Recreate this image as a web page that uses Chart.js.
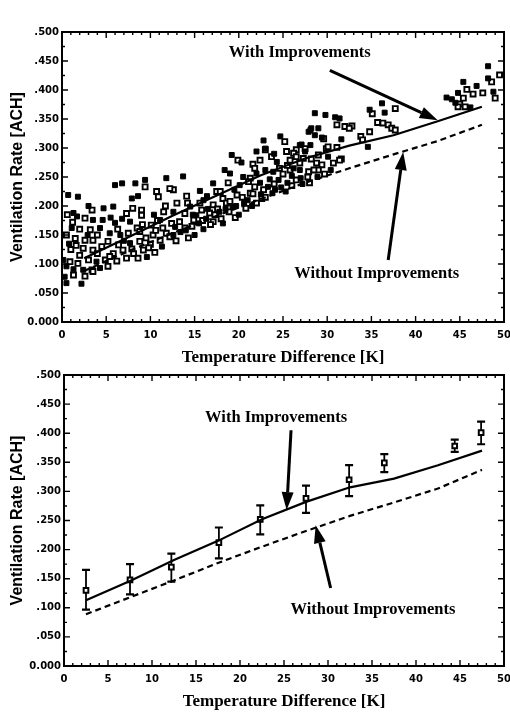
<!DOCTYPE html>
<html>
<head>
<meta charset="utf-8">
<script src="https://cdn.jsdelivr.net/npm/chart.js@4.4.1/dist/chart.umd.min.js"></script>
<style>
body { margin: 0; background: #fff; }
canvas { position: absolute; left: 0; }
#topChart { top: 0; }
#bottomChart { top: 368px; }
</style>
</head>
<body>
<canvas id="topChart" width="510" height="368"></canvas>
<canvas id="bottomChart" width="510" height="348"></canvas>
<script>
// model curves (same temperature steps for both panels)
const modelX = [2.5, 7.5, 12.5, 17.5, 22.5, 27.5, 32.5, 37.5, 42.5, 47.5];
const topWith = [0.110, 0.146, 0.183, 0.218, 0.253, 0.282, 0.304, 0.322, 0.346, 0.371];
const topWithout = [0.088, 0.122, 0.153, 0.183, 0.212, 0.240, 0.265, 0.289, 0.312, 0.340];
const withImp = [0.113, 0.146, 0.182, 0.215, 0.252, 0.282, 0.307, 0.322, 0.345, 0.370];
const withoutImp = [0.089, 0.118, 0.147, 0.177, 0.205, 0.232, 0.258, 0.281, 0.305, 0.337];

// binned measurements with error bars (bottom panel)
const barX = [2.5, 7.5, 12.2, 17.6, 22.3, 27.5, 32.4, 36.4, 44.4, 47.4];
const barMean = [0.130, 0.148, 0.170, 0.212, 0.252, 0.288, 0.320, 0.349, 0.378, 0.401];
const barLow = [0.097, 0.123, 0.145, 0.185, 0.226, 0.263, 0.292, 0.333, 0.368, 0.381];
const barHigh = [0.165, 0.175, 0.193, 0.238, 0.276, 0.310, 0.345, 0.364, 0.389, 0.420];

// hourly measurements (top panel), [deltaT, ACH]
const filledPts = [
  [48.2,0.441],[48.2,0.420],[45.4,0.414],[46.9,0.407],[48.8,0.397],[44.8,0.395],[43.5,0.387],[44.1,0.384],
  [44.5,0.378],[46.2,0.370],[36.2,0.377],[34.8,0.366],[36.5,0.361],[34.6,0.302],[28.6,0.360],[29.8,0.357],
  [30.9,0.353],[31.4,0.351],[28.1,0.331],[29.0,0.334],[28.6,0.322],[31.6,0.315],[28.1,0.305],[27.1,0.306],
  [27.5,0.294],[22.8,0.313],[24.7,0.320],[22.0,0.294],[23.0,0.299],[27.9,0.328],[28.2,0.334],[26.9,0.305],
  [29.4,0.318],[24.3,0.276],[30.1,0.285],[26.2,0.265],[26.9,0.262],[23.0,0.262],[23.9,0.259],[22.0,0.256],
  [22.4,0.240],[23.3,0.233],[24.1,0.228],[19.2,0.288],[20.3,0.275],[18.4,0.262],[19.0,0.256],[13.7,0.251],
  [17.1,0.239],[15.6,0.226],[20.1,0.236],[16.4,0.217],[14.5,0.199],[12.6,0.190],[15.2,0.184],[12.8,0.164],
  [12.6,0.150],[0.7,0.219],[1.8,0.216],[6.0,0.236],[6.8,0.239],[8.3,0.239],[9.4,0.245],[11.8,0.248],
  [7.9,0.213],[8.6,0.217],[1.3,0.188],[1.7,0.182],[4.7,0.196],[5.8,0.199],[3.5,0.176],[1.1,0.162],
  [4.3,0.162],[6.0,0.171],[7.7,0.173],[11.1,0.176],[5.4,0.153],[6.6,0.150],[7.7,0.136],[0.15,0.107],
  [3.9,0.104],[0.5,0.096],[1.3,0.091],[2.4,0.090],[4.3,0.093],[0.3,0.078],[0.5,0.067],[2.2,0.066],
  [14.0,0.158],[15.5,0.170],[16.3,0.178],[17.8,0.190],[19.3,0.198],[20.6,0.205],[15.0,0.150],[16.0,0.160],
  [18.5,0.195],[20.0,0.185],[21.0,0.210],[22.5,0.220],[24.5,0.245],[25.5,0.240],[26.0,0.252],[27.0,0.248],
  [23.5,0.246],[24.8,0.232],
  [0.8,0.135],[2.9,0.150],[4.6,0.176],[3.0,0.200],[7.0,0.140],[9.6,0.112],[11.3,0.130],[10.4,0.185],
  [6.8,0.178],[5.5,0.180],[13.4,0.155],[14.8,0.185],[16.5,0.195],[18.2,0.170],[19.7,0.200],[16.0,0.210],
  [19.5,0.228],[21.5,0.200],[23.8,0.222],[25.3,0.225],[27.2,0.238],[28.9,0.250],[30.4,0.262],[24.0,0.290],
  [20.5,0.250]
];
const openPts = [
  [49.5,0.426],[48.6,0.414],[45.8,0.401],[47.6,0.395],[46.5,0.393],[45.4,0.386],[49.0,0.386],[45.0,0.376],
  [45.6,0.371],[44.8,0.371],[37.7,0.368],[35.1,0.359],[35.7,0.344],[36.3,0.343],[36.9,0.340],[37.3,0.334],
  [37.7,0.331],[34.8,0.328],[33.8,0.320],[31.1,0.340],[32.0,0.337],[32.8,0.338],[32.5,0.334],[34.0,0.314],
  [29.6,0.316],[29.9,0.299],[31.1,0.301],[31.6,0.281],[26.5,0.297],[29.0,0.288],[25.2,0.311],[23.7,0.285],
  [22.4,0.279],[25.4,0.294],[26.2,0.291],[27.5,0.299],[30.1,0.302],[21.6,0.272],[25.8,0.279],[26.5,0.285],
  [27.3,0.282],[28.2,0.281],[28.8,0.274],[29.4,0.271],[30.7,0.274],[31.4,0.279],[27.9,0.259],[29.0,0.262],
  [26.9,0.274],[21.3,0.248],[21.8,0.233],[22.6,0.213],[21.3,0.222],[23.0,0.297],[19.9,0.279],[18.8,0.240],
  [12.6,0.228],[17.5,0.225],[21.1,0.242],[14.1,0.217],[18.2,0.213],[19.8,0.219],[21.6,0.221],[13.0,0.205],
  [15.6,0.205],[17.1,0.202],[18.6,0.205],[13.9,0.187],[16.7,0.188],[13.3,0.173],[14.9,0.176],[17.1,0.173],
  [13.9,0.162],[9.4,0.233],[10.7,0.225],[10.9,0.216],[12.2,0.230],[3.4,0.193],[7.3,0.187],[9.0,0.193],
  [9.0,0.184],[11.5,0.190],[2.6,0.179],[2.0,0.160],[3.2,0.159],[8.5,0.162],[10.1,0.167],[12.4,0.170],
  [1.5,0.144],[2.6,0.141],[3.5,0.141],[7.5,0.153],[8.8,0.156],[10.3,0.150],[11.8,0.153],[5.2,0.139],
  [2.4,0.127],[3.5,0.124],[6.4,0.133],[8.8,0.139],[10.0,0.134],[11.1,0.141],[12.2,0.147],[5.8,0.118],
  [6.9,0.124],[8.1,0.118],[9.2,0.124],[7.3,0.110],[8.6,0.110],[0.9,0.104],[1.8,0.101],[3.0,0.107],
  [4.9,0.107],[5.4,0.113],[3.4,0.090],[5.2,0.096],[1.3,0.081],[2.6,0.079],[3.5,0.087],
  [14.7,0.165],[16.8,0.168],[18.0,0.178],[19.6,0.180],[20.8,0.196],[15.8,0.193],[17.6,0.195],[19.0,0.208],
  [22.0,0.205],[23.0,0.215],[25.0,0.255],[24.0,0.238],[26.5,0.245],[27.8,0.250],[28.5,0.262],[25.8,0.262],
  [9.5,0.145],[10.6,0.158],[11.4,0.162],[6.3,0.160],[4.0,0.150],[4.5,0.130],[9.8,0.128],[10.8,0.175],
  [1.0,0.125],[0.5,0.150],[1.6,0.132],
  [2.0,0.115],[4.0,0.118],[1.2,0.172],[0.6,0.185],[6.2,0.105],[7.9,0.126],[10.5,0.120],[9.1,0.168],
  [11.7,0.200],[8.0,0.196],[12.9,0.140],[14.3,0.145],[15.9,0.175],[17.3,0.185],[18.9,0.190],[20.4,0.215],
  [14.2,0.205],[17.9,0.225],[22.8,0.228],[24.6,0.265],[26.0,0.235],[28.0,0.240],[29.7,0.255],[25.5,0.270],
  [21.8,0.265]
];

const xTicks = [0, 5, 10, 15, 20, 25, 30, 35, 40, 45, 50];
const yTicks = [0, 0.05, 0.1, 0.15, 0.2, 0.25, 0.3, 0.35, 0.4, 0.45, 0.5];

const tickFont = { family: '"DejaVu Sans", sans-serif', size: 10, weight: 'bold' };
const serif = '"Liberation Serif", "Times New Roman", serif';

function toXY(xs, ys) {
    return xs.map((v, i) => ({ x: v, y: ys[i] }));
}

// box round the plot with inward ticks on all four sides
const framePlugin = {
    id: 'frame',
    afterDraw(chart) {
        const { ctx, chartArea: a, scales: { x, y } } = chart;
        ctx.save();
        ctx.strokeStyle = '#000';
        ctx.lineWidth = 2;
        ctx.strokeRect(a.left, a.top, a.right - a.left, a.bottom - a.top);
        ctx.lineWidth = 1.4;
        ctx.beginPath();
        for (let k = 0; k <= 50; k++) {
            const px = x.getPixelForValue(k);
            const len = k % 5 === 0 ? 6 : 3;
            ctx.moveTo(px, a.bottom); ctx.lineTo(px, a.bottom - len);
            ctx.moveTo(px, a.top); ctx.lineTo(px, a.top + len);
        }
        for (let k = 0; k <= 20; k++) {
            const py = y.getPixelForValue(k * 0.025);
            const len = k % 2 === 0 ? 6 : 3;
            ctx.moveTo(a.left, py); ctx.lineTo(a.left + len, py);
            ctx.moveTo(a.right, py); ctx.lineTo(a.right - len, py);
        }
        ctx.stroke();
        ctx.restore();
    }
};

// labels with arrows, placed in data units
const notesPlugin = {
    id: 'notes',
    afterDatasetsDraw(chart, args, opts) {
        const { ctx, scales: { x, y } } = chart;
        ctx.save();
        ctx.fillStyle = '#000';
        ctx.strokeStyle = '#000';
        ctx.font = 'bold 16.5px ' + serif;
        ctx.textAlign = 'center';
        ctx.textBaseline = 'middle';
        (opts.texts || []).forEach(t => {
            ctx.fillText(t.text, x.getPixelForValue(t.x), y.getPixelForValue(t.y));
        });
        (opts.arrows || []).forEach(ar => {
            const x0 = x.getPixelForValue(ar.from[0]), y0 = y.getPixelForValue(ar.from[1]);
            const x1 = x.getPixelForValue(ar.to[0]), y1 = y.getPixelForValue(ar.to[1]);
            const ang = Math.atan2(y1 - y0, x1 - x0);
            const head = 18, half = 6;
            const bx = x1 - head * Math.cos(ang), by = y1 - head * Math.sin(ang);
            ctx.lineWidth = 3;
            ctx.beginPath();
            ctx.moveTo(x0, y0);
            ctx.lineTo(bx, by);
            ctx.stroke();
            ctx.beginPath();
            ctx.moveTo(x1, y1);
            ctx.lineTo(bx + half * Math.sin(ang), by - half * Math.cos(ang));
            ctx.lineTo(bx - half * Math.sin(ang), by + half * Math.cos(ang));
            ctx.closePath();
            ctx.fill();
        });
        ctx.restore();
    }
};

// vertical error bars with caps
const errorBarPlugin = {
    id: 'errorBars',
    beforeDatasetsDraw(chart, args, opts) {
        if (!opts.xs) return;
        const { ctx, scales: { x, y } } = chart;
        ctx.save();
        ctx.strokeStyle = '#000';
        opts.xs.forEach((v, i) => {
            const px = x.getPixelForValue(v);
            const lo = y.getPixelForValue(opts.low[i]);
            const hi = y.getPixelForValue(opts.high[i]);
            ctx.lineWidth = 1.8;
            ctx.beginPath();
            ctx.moveTo(px, lo); ctx.lineTo(px, hi);
            ctx.stroke();
            ctx.lineWidth = 2.2;
            ctx.beginPath();
            ctx.moveTo(px - 4, lo); ctx.lineTo(px + 4, lo);
            ctx.moveTo(px - 4, hi); ctx.lineTo(px + 4, hi);
            ctx.stroke();
        });
        ctx.restore();
    }
};

function makeScales(yWidth, xHeight, titlePad, yTitlePad) {
    return {
        x: {
            type: 'linear',
            min: 0,
            max: 50,
            afterBuildTicks: s => { s.ticks = xTicks.map(v => ({ value: v })); },
            afterFit: s => { s.height = xHeight; s.paddingLeft = 0; s.paddingRight = 0; },
            grid: { display: false, drawTicks: false },
            border: { display: false },
            ticks: { color: '#000', font: tickFont, padding: 7, maxRotation: 0 },
            title: {
                display: true,
                text: 'Temperature Difference [K]',
                color: '#000',
                font: { family: serif, size: 17, weight: 'bold', lineHeight: 1.2 },
                padding: { top: 0, bottom: titlePad }
            }
        },
        y: {
            type: 'linear',
            min: 0,
            max: 0.5,
            afterBuildTicks: s => { s.ticks = yTicks.map(v => ({ value: v })); },
            afterFit: s => { s.width = yWidth; s.paddingTop = 0; s.paddingBottom = 0; },
            grid: { display: false, drawTicks: false },
            border: { display: false },
            ticks: {
                color: '#000',
                font: tickFont,
                padding: 3,
                callback: v => v === 0 ? '0.000' : v.toFixed(3).replace(/^0/, '')
            },
            title: {
                display: true,
                text: 'Ventilation Rate [ACH]',
                color: '#000',
                font: { family: '"Liberation Sans", Arial, sans-serif', size: 16, weight: 'bold', lineHeight: 1.2 },
                padding: { top: yTitlePad, bottom: 0 }
            }
        }
    };
}

const lineStyle = { showLine: true, borderColor: '#000', borderWidth: 2.2, pointRadius: 0, tension: 0, fill: false };

new Chart(document.getElementById('topChart'), {
    type: 'scatter',
    data: {
        datasets: [
            Object.assign({ label: 'With Improvements', data: toXY(modelX, topWith) }, lineStyle),
            Object.assign({ label: 'Without Improvements', data: toXY(modelX, topWithout), borderDash: [6, 4] }, lineStyle),
            {
                label: 'filled',
                data: filledPts.map(p => ({ x: p[0], y: p[1] })),
                pointStyle: 'rect', pointRadius: 3.5,
                backgroundColor: '#000', borderColor: '#000', borderWidth: 1
            },
            {
                label: 'open',
                data: openPts.map(p => ({ x: p[0], y: p[1] })),
                pointStyle: 'rect', pointRadius: 3.5,
                backgroundColor: '#fff', borderColor: '#000', borderWidth: 1.9
            }
        ]
    },
    options: {
        responsive: false,
        animation: false,
        events: [],
        layout: { padding: { left: 0, right: 6, top: 32, bottom: 0 } },
        scales: makeScales(62, 46, 0, 8),
        plugins: {
            legend: { display: false },
            tooltip: { enabled: false },
            notes: {
                texts: [
                    { text: 'With Improvements', x: 26.9, y: 0.464 },
                    { text: 'Without Improvements', x: 35.6, y: 0.084 }
                ],
                arrows: [
                    { from: [30.3, 0.434], to: [42.5, 0.348] },
                    { from: [36.9, 0.107], to: [38.6, 0.293] }
                ]
            }
        }
    },
    plugins: [framePlugin, notesPlugin]
});

new Chart(document.getElementById('bottomChart'), {
    type: 'scatter',
    data: {
        datasets: [
            Object.assign({ label: 'With Improvements', data: toXY(modelX, withImp) }, lineStyle),
            Object.assign({ label: 'Without Improvements', data: toXY(modelX, withoutImp), borderDash: [6, 4] }, lineStyle),
            {
                label: 'mean',
                data: toXY(barX, barMean),
                pointStyle: 'rect', pointRadius: 3.3,
                backgroundColor: '#fff', borderColor: '#000', borderWidth: 2
            }
        ]
    },
    options: {
        responsive: false,
        animation: false,
        events: [],
        layout: { padding: { left: 0, right: 4, top: 7, bottom: 0 } },
        scales: makeScales(64, 50, 4, 8),
        plugins: {
            legend: { display: false },
            tooltip: { enabled: false },
            errorBars: { xs: barX, low: barLow, high: barHigh },
            notes: {
                texts: [
                    { text: 'With Improvements', x: 24.1, y: 0.426 },
                    { text: 'Without Improvements', x: 35.1, y: 0.096 }
                ],
                arrows: [
                    { from: [25.8, 0.405], to: [25.3, 0.268] },
                    { from: [30.3, 0.134], to: [28.6, 0.242] }
                ]
            }
        }
    },
    plugins: [framePlugin, notesPlugin, errorBarPlugin]
});
</script>
</body>
</html>
